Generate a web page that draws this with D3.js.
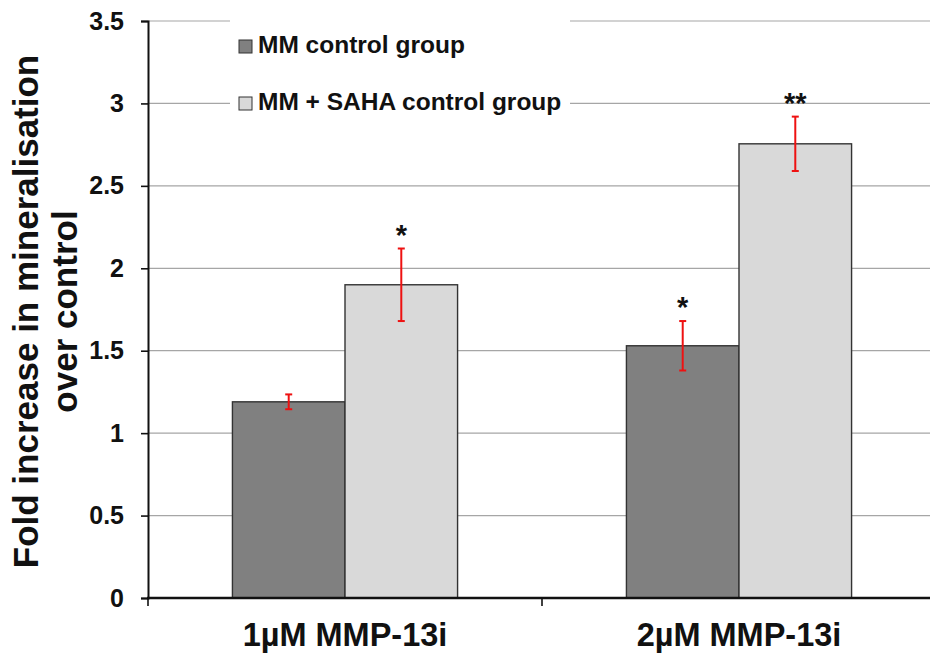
<!DOCTYPE html>
<html>
<head>
<meta charset="utf-8">
<script src="https://cdn.jsdelivr.net/npm/d3@7"></script>
<style>
  html, body { margin: 0; padding: 0; background: #fff; }
  svg { display: block; }
  text { font-family: "Liberation Sans", Arial, sans-serif; font-weight: bold; fill: #111; }
</style>
</head>
<body>
<svg id="chart" width="930" height="660"></svg>
<script>
// Treatment groups along the x axis
const categories = ["1µM MMP-13i", "2µM MMP-13i"];
// Series shown in the legend
const series = ["MM control group", "MM + SAHA control group"];
// Mean fold increase per category, one array per series
const mmControl = [1.19, 1.53];
const mmSaha = [1.90, 2.755];
// Error (± half-range) per category, one array per series
const mmControlErr = [0.045, 0.15];
const mmSahaErr = [0.22, 0.165];
// Significance marks per category, one array per series
const mmControlSig = ["", "*"];
const mmSahaSig = ["*", "**"];
// Y axis ticks
const yTicks = [0, 0.5, 1, 1.5, 2, 2.5, 3, 3.5];

const values = [mmControl, mmSaha];
const errors = [mmControlErr, mmSahaErr];
const sigs = [mmControlSig, mmSahaSig];
const fills = ["#808080", "#d9d9d9"];

const rows = [];
categories.forEach((c, ci) => {
  series.forEach((s, si) => {
    rows.push({ cat: c, ser: s, si, v: values[si][ci], e: errors[si][ci], sig: sigs[si][ci] });
  });
});

const svg = d3.select("#chart");
const plotLeft = 148, plotRight = 936, plotTop = 21, plotBottom = 598;

const y = d3.scaleLinear().domain([0, 3.5]).range([plotBottom, plotTop]);
const x0 = d3.scaleBand().domain(categories).range([plotLeft, plotRight]).paddingInner(0).paddingOuter(0);
const x1 = d3.scaleBand().domain(series).range([0, x0.bandwidth()]).paddingInner(0).paddingOuter(0.75);

// Horizontal gridlines
svg.append("g").selectAll("line")
  .data(yTicks.filter(t => t > 0))
  .join("line")
  .attr("x1", plotLeft).attr("x2", plotRight)
  .attr("y1", d => y(d)).attr("y2", d => y(d))
  .attr("stroke", "#a6a6a6").attr("stroke-width", 1.2);

// Legend background (covers gridlines behind the legend)
const legend = svg.append("g");
legend.append("rect")
  .attr("x", 230).attr("y", 8).attr("width", 340).attr("height", 115)
  .attr("fill", "#fff");
const lg = legend.selectAll("g.item").data(series).join("g").attr("class", "item")
  .attr("transform", (d, i) => `translate(239, ${53 + i * 57})`);
lg.append("rect")
  .attr("x", 0).attr("y", -13).attr("width", 13).attr("height", 13)
  .attr("fill", (d, i) => fills[i]).attr("stroke", "#333").attr("stroke-width", 1);
lg.append("text")
  .attr("x", 19).attr("y", 0)
  .attr("font-size", 24.5)
  .text(d => d);

// Bars
svg.append("g").selectAll("rect")
  .data(rows)
  .join("rect")
  .attr("x", d => x0(d.cat) + x1(d.ser))
  .attr("y", d => y(d.v))
  .attr("width", x1.bandwidth())
  .attr("height", d => y(0) - y(d.v))
  .attr("fill", d => fills[d.si])
  .attr("stroke", "#333").attr("stroke-width", 1.4);

// Error bars
const eb = svg.append("g").attr("stroke", "#ee1111").attr("stroke-width", 2);
rows.forEach(d => {
  const cx = x0(d.cat) + x1(d.ser) + x1.bandwidth() / 2;
  const y1 = y(d.v + d.e), y2 = y(d.v - d.e);
  eb.append("line").attr("x1", cx).attr("x2", cx).attr("y1", y1).attr("y2", y2);
  eb.append("line").attr("x1", cx - 3.5).attr("x2", cx + 3.5).attr("y1", y1).attr("y2", y1);
  eb.append("line").attr("x1", cx - 3.5).attr("x2", cx + 3.5).attr("y1", y2).attr("y2", y2);
});

// Significance stars
svg.append("g").selectAll("text")
  .data(rows.filter(d => d.sig))
  .join("text")
  .attr("x", d => x0(d.cat) + x1(d.ser) + x1.bandwidth() / 2)
  .attr("y", d => y(d.v + d.e) - 4)
  .attr("text-anchor", "middle")
  .attr("font-size", 29)
  .text(d => d.sig);

// Y axis
const yAxis = svg.append("g")
  .attr("transform", `translate(${plotLeft},0)`)
  .call(d3.axisLeft(y).tickValues(yTicks).tickFormat(d3.format("")).tickSize(7).tickPadding(17));
yAxis.select(".domain").attr("stroke", "#111").attr("stroke-width", 2);
yAxis.selectAll(".tick line").attr("stroke", "#111").attr("stroke-width", 1.6);
yAxis.selectAll(".tick text")
  .attr("font-family", "Liberation Sans, Arial, sans-serif")
  .attr("font-weight", "bold")
  .attr("font-size", 25)
  .attr("fill", "#111");

// X axis: line, boundary ticks and category labels
const xa = svg.append("g");
xa.append("line").attr("x1", plotLeft - 1).attr("x2", plotRight).attr("y1", plotBottom).attr("y2", plotBottom)
  .attr("stroke", "#111").attr("stroke-width", 2.4);
const bounds = categories.map(c => x0(c)).concat([x0.range()[1]]);
xa.selectAll("line.tk").data(bounds).join("line").attr("class", "tk")
  .attr("x1", d => d).attr("x2", d => d).attr("y1", plotBottom).attr("y2", plotBottom + 8)
  .attr("stroke", "#111").attr("stroke-width", 1.6);
xa.selectAll("text").data(categories).join("text")
  .attr("x", d => x0(d) + x0.bandwidth() / 2)
  .attr("y", 646)
  .attr("text-anchor", "middle")
  .attr("font-size", 32.5)
  .text(d => d);

// Y axis title (two lines)
const titleLines = ["Fold increase in mineralisation", "over control"];
const cy = (plotTop + plotBottom) / 2 + 2;
svg.append("g").selectAll("text").data(titleLines).join("text")
  .attr("transform", (d, i) => `translate(${38 + i * 39}, ${cy}) rotate(-90)`)
  .attr("text-anchor", "middle")
  .attr("font-size", 35)
  .text(d => d);
</script>
</body>
</html>
